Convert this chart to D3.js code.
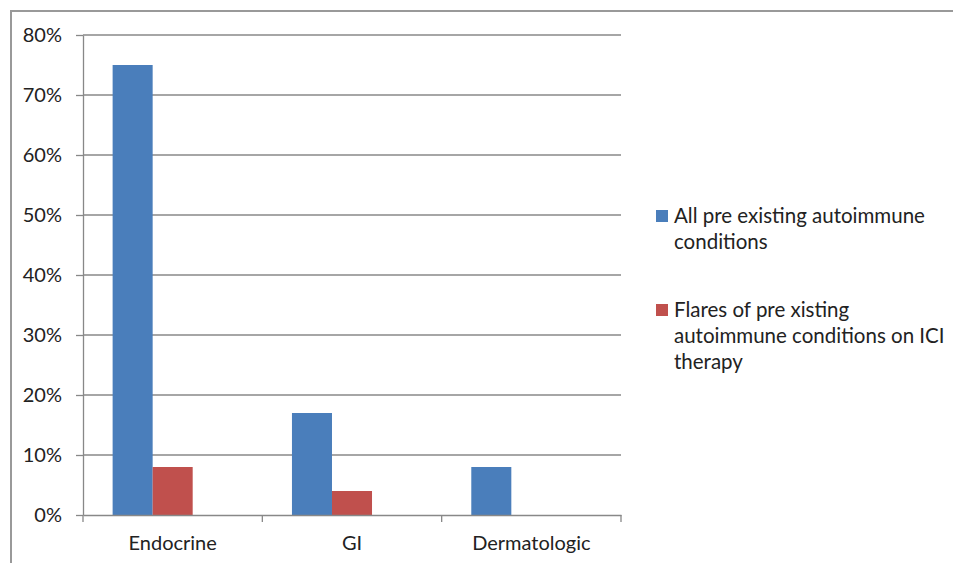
<!DOCTYPE html>
<html><head><meta charset="utf-8">
<script src="https://cdn.jsdelivr.net/npm/d3@7"></script>
<style>body{margin:0;background:#fff;} svg{display:block;} text{font-family:Lato,"Open Sans",sans-serif;fill:#222;}</style>
</head><body>
<svg id="c" width="953" height="563"></svg>
<script>
const categories = ["Endocrine", "GI", "Dermatologic"];
const seriesNames = ["All pre existing autoimmune conditions", "Flares of pre xisting autoimmune conditions on ICI therapy"];
const allPreExisting = [75, 17, 8];
const flaresOnICI = [8, 4, null];
const yTicks = [0, 10, 20, 30, 40, 50, 60, 70, 80];
const colors = ["#4a7ebb", "#c0504d"];
const legendLines = [["All pre existing autoimmune", "conditions"], ["Flares of pre xisting", "autoimmune conditions on ICI", "therapy"]];

const svg = d3.select("#c");
const mLeft = 83, mRight = 621, mTop = 35, mBottom = 515;
const fs = 20;
// outer border
svg.append("path").attr("d", "M11,563 V11 H953").attr("fill","none").attr("stroke","#999").attr("stroke-width",2);

const x0 = d3.scaleBand().domain(categories).range([mLeft, mRight]).paddingInner(0).paddingOuter(0);
// three slots per category (third slot left empty, as in the original layout)
const x1 = d3.scaleBand().domain([0,1,2]).range([0, x0.bandwidth()]).paddingInner(0).paddingOuter(0.74);
const y = d3.scaleLinear().domain([0, 80]).range([mBottom, mTop]);

// gridlines
svg.append("g").selectAll("line").data(yTicks.filter(d=>d>0)).join("line")
  .attr("x1", mLeft).attr("x2", mRight).attr("y1", d=>y(d)).attr("y2", d=>y(d))
  .attr("stroke", "#888").attr("stroke-width", 1.3);

// bars
const series = [allPreExisting, flaresOnICI];
series.forEach((vals, si) => {
  svg.append("g").selectAll("rect").data(categories.map((c,i)=>({c, v: vals[i]})).filter(d=>d.v!=null)).join("rect")
    .attr("x", d => x0(d.c) + x1(si)).attr("width", x1.bandwidth())
    .attr("y", d => y(d.v)).attr("height", d => mBottom - y(d.v))
    .attr("fill", colors[si]);
});

// y axis
const yAxis = svg.append("g").attr("transform", `translate(${mLeft},0)`)
  .call(d3.axisLeft(y).tickValues(yTicks).tickFormat(d => d + "%").tickSize(7).tickSizeOuter(0));
yAxis.select(".domain").attr("stroke", "#888").attr("stroke-width", 1.3);
yAxis.selectAll(".tick line").attr("stroke", "#888").attr("stroke-width", 1.3);
yAxis.selectAll(".tick text").attr("x", -21).attr("font-size", fs).attr("font-family", "Lato").attr("fill","#222");

// x axis
const xAxis = svg.append("g").attr("transform", `translate(0,${mBottom})`)
  .call(d3.axisBottom(x0).tickSize(0).tickSizeOuter(0));
xAxis.select(".domain").attr("stroke", "#888").attr("stroke-width", 1.3);
xAxis.selectAll(".tick text").attr("y", 21).attr("dy","0.71em").attr("font-size", fs).attr("font-family", "Lato").attr("fill","#222");
// category boundary ticks
const bounds = categories.map(c => x0(c)).concat([mRight]);
xAxis.append("g").selectAll("line").data(bounds).join("line")
  .attr("x1", d=>d).attr("x2", d=>d).attr("y1", 0).attr("y2", 7)
  .attr("stroke", "#888").attr("stroke-width", 1.3);

// legend
const legendY = [216, 310];
legendLines.forEach((lines, i) => {
  const g = svg.append("g");
  g.append("rect").attr("x", 656).attr("y", legendY[i]-6).attr("width", 12).attr("height", 12).attr("fill", colors[i]);
  lines.forEach((t, j) => {
    g.append("text").attr("x", 674).attr("y", legendY[i] + j*26).attr("dy", "0.35em")
      .attr("font-size", 20.5).text(t);
  });
});
</script>
</body></html>
